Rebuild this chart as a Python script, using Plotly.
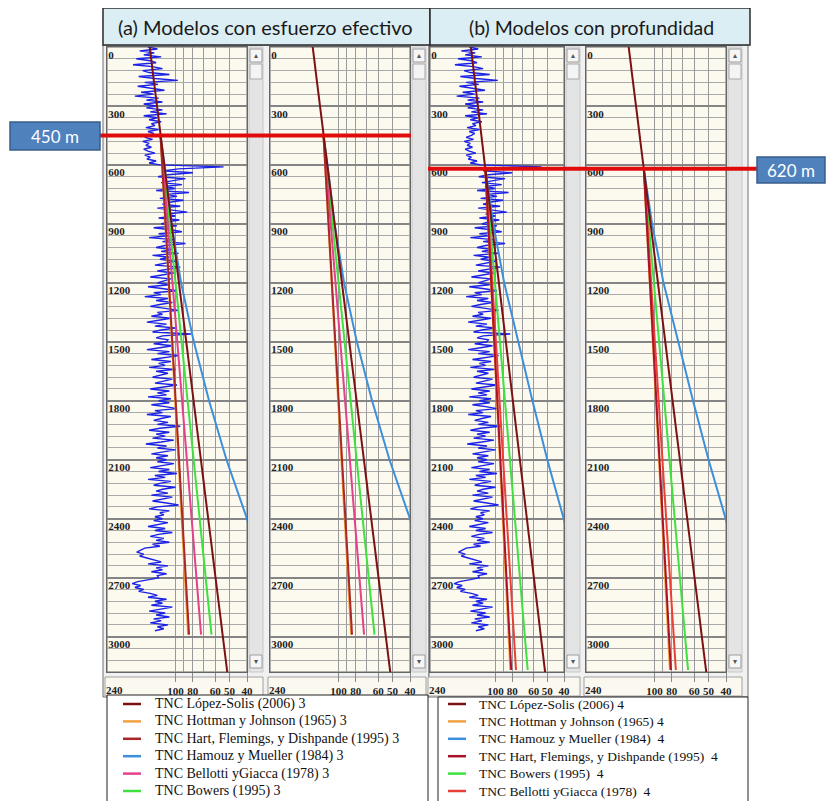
import numpy as np
import plotly.graph_objects as go

# page is 834x809; the html body has an 8 px margin, so the figure itself is 818x793
W, H = 818, 793
OFF = 8

# ---------------- DATA ----------------
# noisy log (same well, shown in tracks 1 and 3), one value every 10 m from 0 m
log_value = [
    142, 126, 158, 131, 150, 120, 165, 138, 128, 172, 134, 118, 152, 140, 108, 160, 130, 97, 148, 125,
    162, 136, 115, 155, 132, 168, 124, 145, 118, 150,
    128, 145, 118, 138, 112, 150, 126, 140, 120, 136, 130, 146, 124, 142, 132, 138, 148, 134, 152, 140,
    146, 136, 150, 142, 130, 148, 138, 144, 128, 140,
    122, 54, 96, 118, 80, 110, 125, 88, 104, 120, 92, 115, 100, 128, 84, 112, 98, 122, 90, 108,
    118, 94, 126, 102, 86, 114, 100, 124, 95, 110,
    120, 98, 132, 106, 92, 124, 110, 140, 102, 118, 88, 114, 128, 104, 120, 96, 134, 108, 122, 100,
    116, 130, 94, 112, 126, 102, 118, 138, 106, 114,
    126, 108, 142, 116, 98, 132, 120, 148, 110, 128, 104, 122, 138, 114, 96, 126, 118, 136, 106, 124,
    144, 112, 130, 100, 120, 134, 82, 118, 128, 110,
    112, 132, 104, 122, 144, 108, 126, 96, 118, 136, 106, 124, 114, 140, 100, 128, 110, 122, 134, 104,
    118, 130, 98, 116, 138, 108, 126, 112, 142, 106,
    124, 108, 136, 114, 98, 130, 118, 144, 106, 120, 132, 110, 126, 94, 122, 140, 108, 128, 114, 134,
    102, 120, 146, 112, 126, 100, 118, 136, 110, 128,
    112, 126, 102, 120, 138, 108, 124, 98, 130, 114, 142, 106, 122, 132, 100, 118, 128, 110, 136, 104,
    120, 134, 112, 96, 126, 140, 108, 122, 116, 130,
    118, 132, 110, 126, 142, 114, 130, 104, 124, 138, 116, 128, 108, 134, 122, 148, 156, 164, 150, 158,
    144, 132, 120, 142, 110, 128, 118, 136, 112, 126,
    124, 140, 162, 174, 156, 168, 150, 160, 138, 126, 142, 112, 130, 118, 136, 104, 124, 140, 114, 128,
    108, 132, 120, 138, 110, 126, 116, 130,
]
log_step = 10
log_depth = [log_step * i for i in range(len(log_value))]

# Panel (a): trends starting at 450 m
lopez_depth = [0, 3180]
lopez_val = [139, 51.5]
hottman_a_depth = [450, 2990]
hottman_a_val = [121, 85]
hart_a_depth = [450, 2990]
hart_a_val = [121, 84]
hamouz_a_depth = [450, 600, 900, 1200, 1500, 1800, 2100, 2400, 2550]
hamouz_a_val = [121, 115, 105, 93, 79, 65, 52, 40, 36]
bellotti_a_depth = [450, 2990]
bellotti_a_val = [121, 72]
bowers_a_depth = [450, 2990]
bowers_a_val = [121, 63]

# Panel (b): trends starting at 620 m
hottman_b_depth = [620, 3170]
hottman_b_val = [114.5, 82]
hamouz_b_depth = [620, 900, 1200, 1500, 1800, 2100, 2400, 2550]
hamouz_b_val = [114.5, 103, 89, 74, 61, 50, 40, 36]
hart_b_depth = [620, 3170]
hart_b_val = [114.5, 81]
bowers_b_depth = [620, 3170]
bowers_b_val = [114.5, 65]
bellotti_b_depth = [620, 3170]
bellotti_b_val = [114.5, 76]

x_left_value = 240
xtick_vals = [100, 80, 60, 50, 40]
xtick_text = ["100", "80", "60", "50", "40"]
xgrid_minor = [200, 90, 70]
marker_depth_a = 450
marker_depth_b = 620

# legend entries, in the order shown in each key
names_a = ["TNC López-Solis (2006) 3", "TNC Hottman y Johnson (1965) 3",
           "TNC Hart, Flemings, y Dishpande (1995) 3", "TNC Hamouz y Mueller (1984) 3",
           "TNC Bellotti yGiacca (1978) 3", "TNC Bowers (1995) 3"]
names_b = ["TNC López-Solis (2006) 4", "TNC Hottman y Johnson (1965) 4",
           "TNC Hamouz y Mueller (1984)\u00a0 4", "TNC Hart, Flemings, y Dishpande (1995)\u00a0 4",
           "TNC Bowers (1995)\u00a0 4", "TNC Bellotti yGiacca (1978)\u00a0 4"]

# ---------------- STYLE ----------------
C_LOPEZ = "#7b1113"
C_HOTT = "#f2a142"
C_HART_A = "#a8282a"
C_HAMOUZ = "#3c8fdc"
C_BELL_A = "#e2418c"
C_BOWERS = "#3fe03f"
C_HART_B = "#a8122a"
C_BELL_B = "#ea4038"
C_LOG = "#1a22e6"

colors_a = [C_LOPEZ, C_HOTT, C_HART_A, C_HAMOUZ, C_BELL_A, C_BOWERS]
colors_b = [C_LOPEZ, C_HOTT, C_HAMOUZ, C_HART_B, C_BOWERS, C_BELL_B]

# page-pixel geometry of the reference
tracks = [(107, 247), (270, 410), (430, 564), (586, 726)]
Y_TOP, Y_BOT = 47, 672


def PX(x):
    return (x - OFF) / W


def PY(y):
    return 1 - (y - OFF) / H


fig = go.Figure()


def ax(i):
    return ("x" if i == 1 else f"x{i}"), ("y" if i == 1 else f"y{i}")


def add_line(i, xs, ys, color, name, width=2):
    xa, ya = ax(i)
    fig.add_trace(go.Scatter(
        x=xs, y=ys, xaxis=xa, yaxis=ya, mode="lines",
        line=dict(color=color, width=width), name=name,
        showlegend=False, hoverinfo="skip"))


# Panel (a) tracks 1 and 2
for i in (1, 2):
    if i == 1:
        add_line(1, log_value, log_depth, C_LOG, "log", width=1.4)
    add_line(i, hamouz_a_val, hamouz_a_depth, C_HAMOUZ, names_a[3])
    add_line(i, bowers_a_val, bowers_a_depth, C_BOWERS, names_a[5])
    add_line(i, bellotti_a_val, bellotti_a_depth, C_BELL_A, names_a[4])
    add_line(i, hottman_a_val, hottman_a_depth, C_HOTT, names_a[1])
    add_line(i, hart_a_val, hart_a_depth, C_HART_A, names_a[2])
    add_line(i, lopez_val, lopez_depth, C_LOPEZ, names_a[0])

# Panel (b) tracks 3 and 4
for i in (3, 4):
    if i == 3:
        add_line(3, log_value, log_depth, C_LOG, "log", width=1.4)
    add_line(i, hamouz_b_val, hamouz_b_depth, C_HAMOUZ, names_b[2])
    add_line(i, bowers_b_val, bowers_b_depth, C_BOWERS, names_b[4])
    add_line(i, hottman_b_val, hottman_b_depth, C_HOTT, names_b[1])
    add_line(i, bellotti_b_val, bellotti_b_depth, C_BELL_B, names_b[5])
    add_line(i, hart_b_val, hart_b_depth, C_HART_B, names_b[3])
    add_line(i, lopez_val, lopez_depth, C_LOPEZ, names_b[0])

tickfont = dict(family="Liberation Serif", size=11, color="#222", weight="bold")
ydom = [PY(Y_BOT), PY(Y_TOP)]
annotations = []
for i, (x0, x1) in enumerate(tracks, start=1):
    xa, ya = ax(i)
    xk = "xaxis" if i == 1 else f"xaxis{i}"
    yk = "yaxis" if i == 1 else f"yaxis{i}"
    fig.update_layout(**{
        xk: dict(domain=[PX(x0), PX(x1)], anchor=ya, type="log",
                 range=[np.log10(240), np.log10(40)],
                 tickmode="array", tickvals=xtick_vals, ticktext=xtick_text,
                 tickangle=0,
                 ticks="outside", ticklen=9, tickcolor="#888", tickwidth=1,
                 tickfont=tickfont, showgrid=True, gridcolor="#9a9a9a", gridwidth=1,
                 minor=dict(tickmode="array", tickvals=xgrid_minor, showgrid=True,
                            gridcolor="#9a9a9a", gridwidth=1, ticks=""),
                 showline=True, mirror=True, linecolor="#666", linewidth=1,
                 zeroline=False, fixedrange=True),
        yk: dict(domain=ydom, anchor=xa, range=[3180, 0], tick0=0, dtick=300,
                 ticks="", ticklabelposition="inside bottom", tickfont=tickfont,
                 showgrid=True, gridcolor="#858585", gridwidth=1.6,
                 minor=dict(dtick=60, showgrid=True, gridcolor="#aaaaaa", gridwidth=1),
                 showline=True, mirror=True, linecolor="#666", linewidth=1,
                 zeroline=False, fixedrange=True),
    })
    # left-end scale label (the axis hides it next to the inside depth labels)
    annotations.append(dict(xref=xa, yref="paper", x=np.log10(x_left_value), y=PY(682),
                            text=str(x_left_value), showarrow=False,
                            xanchor="left", yanchor="top", xshift=-3, font=tickfont))

# ---------------- DECORATION ----------------
shapes = []


def rect(x0, y0, x1, y1, fill, line="#999", lw=1, layer="below"):
    shapes.append(dict(type="rect", xref="paper", yref="paper",
                       x0=PX(x0), x1=PX(x1), y0=PY(y1), y1=PY(y0),
                       fillcolor=fill, line=dict(color=line, width=lw), layer=layer))


def text(x, y, s, size, color, family="Lato", weight="normal", anchor="center"):
    annotations.append(dict(xref="paper", yref="paper", x=PX(x), y=PY(y),
                            text=s, showarrow=False, xanchor=anchor, yanchor="middle",
                            font=dict(family=family, size=size, color=color, weight=weight)))


# panel backgrounds
rect(103, 45, 429, 697, "#f1f1f1", "#707070", 1)
rect(429, 45, 748, 697, "#f1f1f1", "#707070", 1)
# track creams, scrollbars, scale boxes
for (x0, x1) in tracks:
    rect(x0, Y_TOP, x1, Y_BOT, "#fcf9ee", "#666", 1)
    sx0, sx1 = x1 + 2, x1 + 16
    rect(sx0, Y_TOP, sx1, Y_BOT, "#e4e4e4", "#c8c8c8", 1)
    rect(sx0 + 1, 49, sx1 - 1, 62, "#f6f6f6", "#9c9c9c", 1)
    rect(sx0 + 1, 64, sx1 - 1, 79, "#f4f4f4", "#a8a8a8", 1)
    rect(sx0 + 1, 655, sx1 - 1, 668, "#f6f6f6", "#9c9c9c", 1)
    text((sx0 + sx1) / 2, 55.5, "▴", 8, "#555", family="DejaVu Sans")
    text((sx0 + sx1) / 2, 661.5, "▾", 8, "#555", family="DejaVu Sans")
    rect(x0 - 2, 677, sx1, 696, "#fbf8ef", "#a0a0a0", 1)

# headers
rect(103, 8, 430, 45, "#dbeef4", "#2a2a2a", 1.5)
rect(430, 8, 750, 45, "#dbeef4", "#2a2a2a", 1.5)
text(265, 27, "(a) Modelos con esfuerzo efectivo", 20, "#1a1a1a")
text(591, 27, "(b) Modelos con profundidad", 19.5, "#1a1a1a")

# keys (legend boxes with a short line and a label per trend)
rect(107, 695, 428, 812, "#ffffff", "#222", 1)
rect(438, 697, 748, 812, "#ffffff", "#222", 1)
KEY_Y0, KEY_DY = 704, 17.4
for names, colors, lx0, lx1, tx, fsize in ((names_a, colors_a, 123, 141, 153, 14),
                                           (names_b, colors_b, 448, 466, 477, 13.5)):
    for k, (nm, col) in enumerate(zip(names, colors)):
        yy = KEY_Y0 + k * KEY_DY
        shapes.append(dict(type="line", xref="paper", yref="paper",
                           x0=PX(lx0), x1=PX(lx1), y0=PY(yy), y1=PY(yy),
                           line=dict(color=col, width=2.5), layer="above"))
        text(tx, yy, nm, fsize, "#111", family="Liberation Serif", anchor="left")

# red depth markers
shapes.append(dict(type="line", xref="paper", yref="y", x0=PX(100), x1=PX(411),
                   y0=marker_depth_a, y1=marker_depth_a,
                   line=dict(color="#e00c0c", width=4), layer="above"))
shapes.append(dict(type="line", xref="paper", yref="y3", x0=PX(428), x1=PX(757),
                   y0=marker_depth_b, y1=marker_depth_b,
                   line=dict(color="#e00c0c", width=4), layer="above"))
rect(10, 122, 100, 150, "#4f81bd", "#385d8a", 1.5, layer="above")
rect(757, 157, 825, 183, "#4f81bd", "#385d8a", 1.5, layer="above")
text(55, 136, f"{marker_depth_a} m", 17, "#ffffff")
text(791, 170, f"{marker_depth_b} m", 17, "#ffffff")

fig.update_layout(
    width=W, height=H,
    margin=dict(l=0, r=0, t=0, b=0, autoexpand=False),
    paper_bgcolor="#ffffff", plot_bgcolor="rgba(0,0,0,0)",
    shapes=shapes, annotations=annotations,
    showlegend=False,
    hovermode=False,
)

fig.write_html("out.html")
